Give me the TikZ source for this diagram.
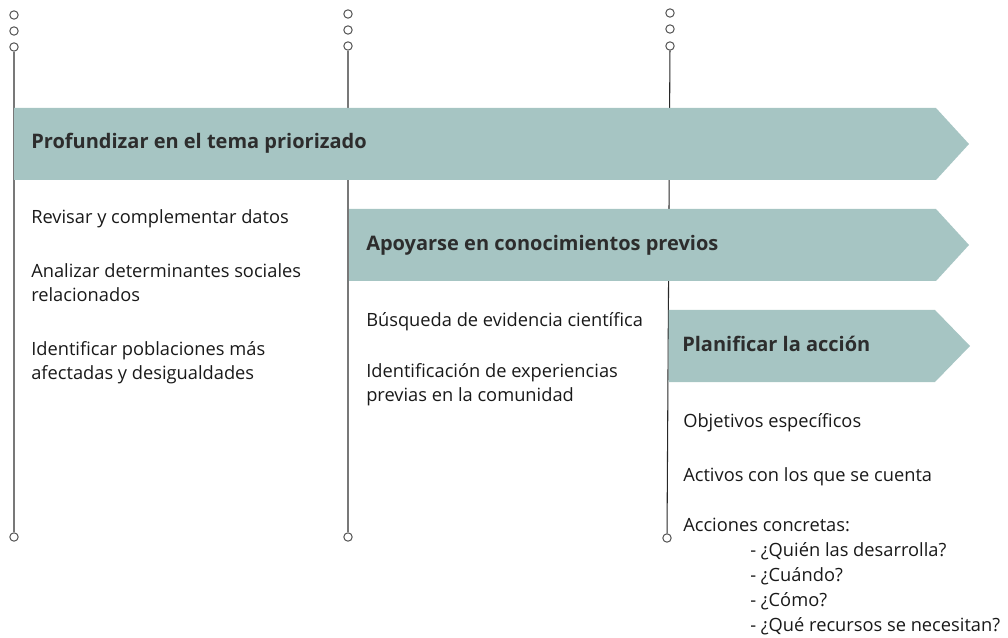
\documentclass[tikz,border=0pt]{standalone}
\usepackage{fontspec}
\setmainfont{Open Sans}
\definecolor{arrowfill}{RGB}{166,197,195}
\definecolor{txt}{RGB}{25,25,25}
\definecolor{headtxt}{RGB}{45,45,45}
\definecolor{linegray}{RGB}{120,120,120}
\definecolor{dotgray}{RGB}{85,85,85}
\definecolor{darkline}{RGB}{40,40,40}
\begin{document}
\begin{tikzpicture}[x=0.75pt,y=-0.75pt,
  dot/.style={circle,draw=dotgray,fill=white,line width=0.75pt,inner sep=0pt,minimum size=6.3pt},
  vline/.style={draw=linegray,line width=1.1pt},
  vlinedark/.style={draw=darkline,line width=0.8pt},
  band/.style={fill=arrowfill,draw=none},
  body/.style={anchor=base west,inner sep=0pt,text=txt,font=\fontsize{13.7}{16}\selectfont},
  head/.style={anchor=base west,inner sep=0pt,text=headtxt,font=\fontsize{15}{18}\selectfont\bfseries}]
\useasboundingbox (0,0) rectangle (1008,638);
% dots
\node[dot] (a1) at (14,15) {};
\node[dot] (a2) at (14,31) {};
\node[dot] (a3) at (14,47) {};
\node[dot] (a4) at (14,537) {};
\node[dot] (b1) at (348,14) {};
\node[dot] (b2) at (348,30) {};
\node[dot] (b3) at (348,46) {};
\node[dot] (b4) at (348,537) {};
\node[dot] (c1) at (670,13) {};
\node[dot] (c2) at (670,29) {};
\node[dot] (c3) at (670,46) {};
\node[dot] (c4) at (667,538) {};
% vertical lines
\draw[vline] (a3) -- (a4);
\draw[vline] (b3) -- (b4);
\draw[vlinedark] (c3) -- (c4);
% arrows
\path[band] (14,108) -- (936,108) -- (969,144) -- (936,180) -- (14,180) -- cycle;
\path[band] (349,209) -- (936,209) -- (969,245) -- (936,281) -- (349,281) -- cycle;
\path[band] (668.6,310) -- (935,310) -- (970,346) -- (935,382) -- (668.6,382) -- cycle;
% headings
\node[head] (h1) at (31,149) {Profundizar en el tema priorizado};
\node[head] (h2) at (366,251) {Apoyarse en conocimientos previos};
\node[head] (h3) at (682,352) {Planificar la acción};
% column 1 text
\node[body] (t11) at (31,224) {Revisar y complementar datos};
\node[body] (t12) at (31,278) {Analizar determinantes sociales};
\node[body] (t13) at (31,302) {relacionados};
\node[body] (t14) at (31,355) {Identificar poblaciones más};
\node[body] (t15) at (31,379) {afectadas y desigualdades};
% column 2 text
\node[body] (t21) at (366,326) {Búsqueda de evidencia científica};
\node[body] (t22) at (366,378) {Identificación de experiencias};
\node[body] (t23) at (366,402) {previas en la comunidad};
% column 3 text
\node[body] (t31) at (683,427) {Objetivos específicos};
\node[body] (t32) at (683,481) {Activos con los que se cuenta};
\node[body] (t33) at (683,531) {Acciones concretas:};
\node[body] (t34) at (750,556) {- ¿Quién las desarrolla?};
\node[body] (t35) at (750,581) {- ¿Cuándo?};
\node[body] (t36) at (750,606) {- ¿Cómo?};
\node[body] (t37) at (750,631) {- ¿Qué recursos se necesitan?};
\end{tikzpicture}
\end{document}
